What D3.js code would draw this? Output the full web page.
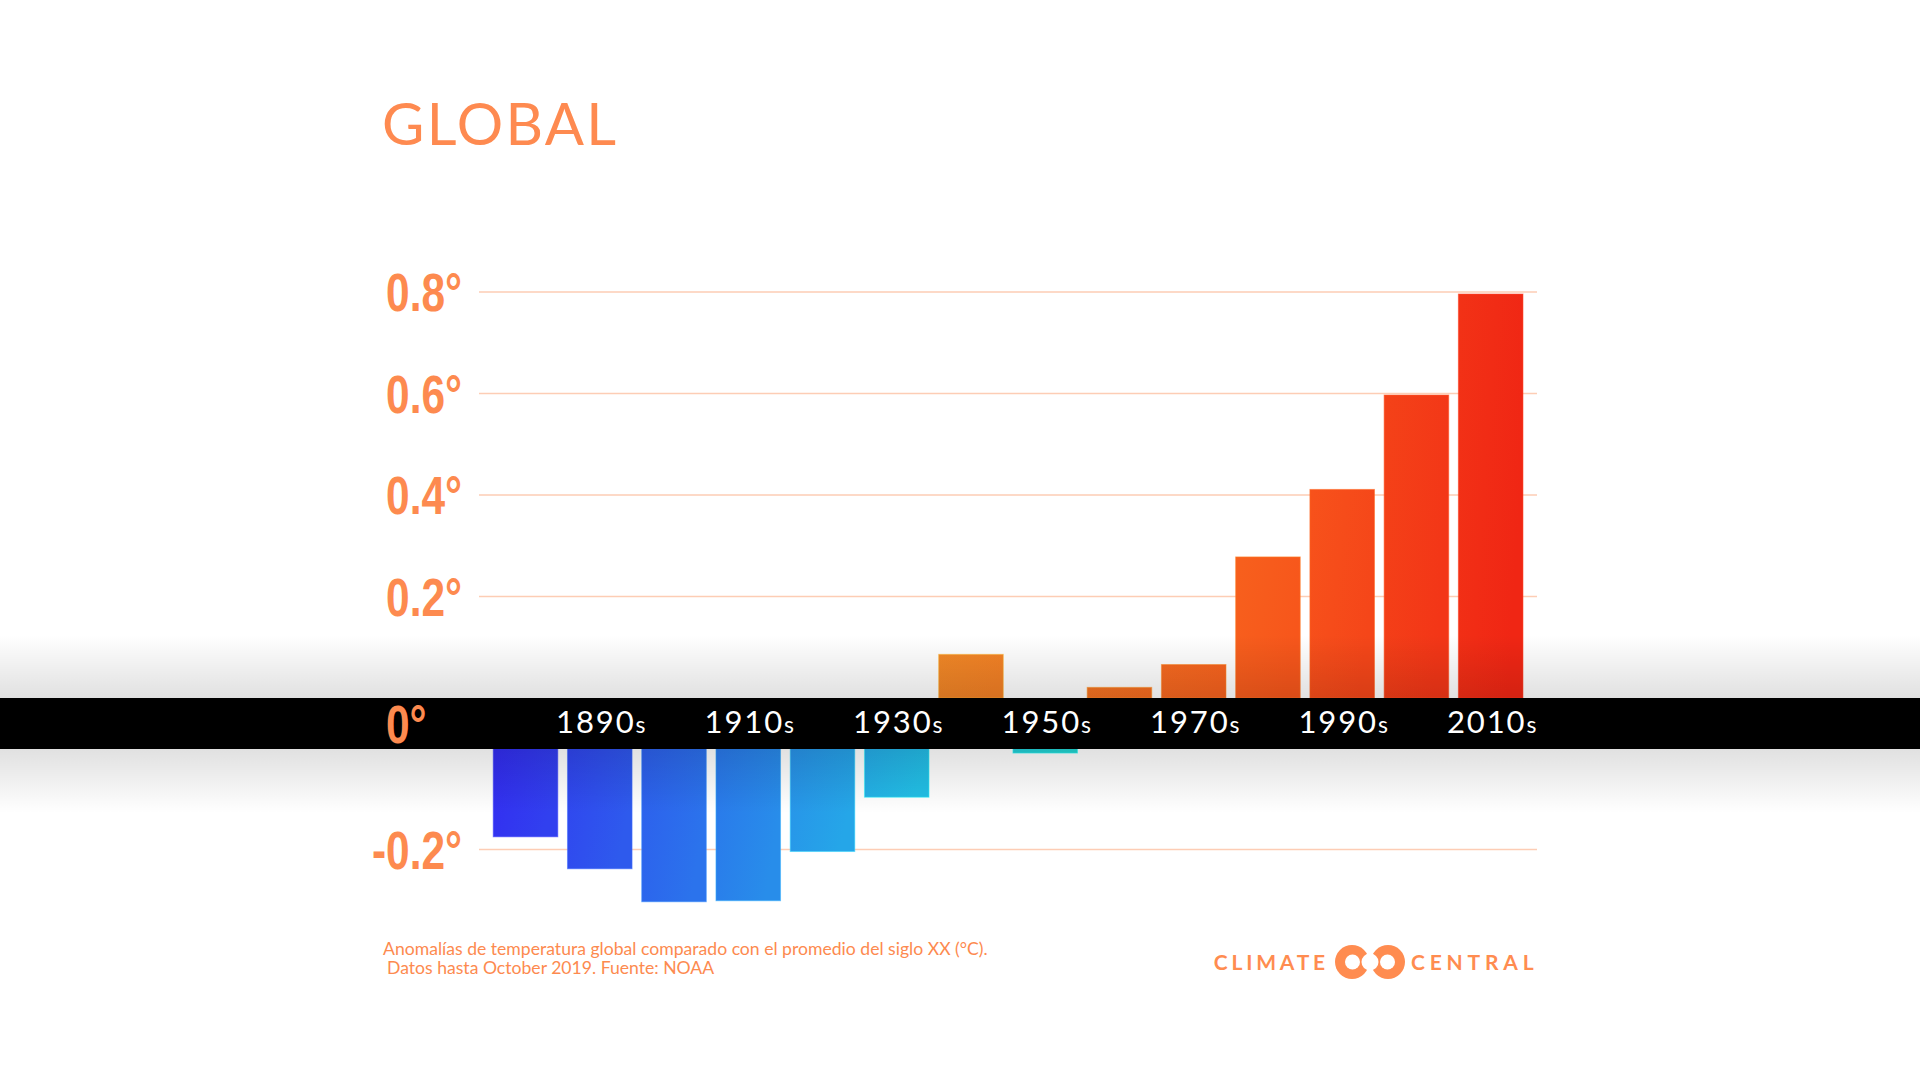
<!DOCTYPE html>
<html>
<head>
<meta charset="utf-8">
<script src="https://cdn.jsdelivr.net/npm/d3@7"></script>
<style>
  body { margin: 0; background: #fff; }
  svg { display: block; }
</style>
</head>
<body>
<svg id="chart"></svg>
<script>
// DATA
let decades = ["1880s", "1890s", "1900s", "1910s", "1920s", "1930s", "1940s",
  "1950s", "1960s", "1970s", "1980s", "1990s", "2000s", "2010s"]
let anomalies = [-0.175, -0.238, -0.303, -0.301, -0.204, -0.097, 0.086,
  -0.01, 0.021, 0.066, 0.278, 0.411, 0.597, 0.796]
let labelDecades = ["1890s", "1910s", "1930s", "1950s", "1970s", "1990s", "2010s"]
let posTicks = [0.2, 0.4, 0.6, 0.8]
let negTicks = [-0.2]

let svgWidth = 1920
let svgHeight = 1080
let orange = "#fd8a4f"

// THE CONTAINER
let svg = d3.select("#chart")
  .attr("width", svgWidth)
  .attr("height", svgHeight)

svg.append("rect")
  .attr("width", svgWidth)
  .attr("height", svgHeight)
  .attr("fill", "#fff")

let defs = svg.append("defs")

// SCALES
let bandTop = 698
let bandBottom = 749

let xScale = d3.scaleBand()
  .domain(decades)
  .range([488.4, 1527.8])
  .paddingInner(0.13)
  .paddingOuter(0.065)

// positive part sits on top of the black band, negative part hangs under it
let yPos = d3.scaleLinear()
  .domain([0, 0.8])
  .range([bandTop, 292])

let yNeg = d3.scaleLinear()
  .domain([0, -0.2])
  .range([bandBottom - 1, 849.5])

let coldColor = d3.scaleLinear()
  .domain([1880, 1935, 1955])
  .range(["#3236f0", "#22c2e6", "#22d6d0"])

let warmColor = d3.scaleLinear()
  .domain([1940, 1980, 2015])
  .range(["#f28426", "#f85c1c", "#f02414"])

function colorAt(year, value) {
  return value < 0 ? coldColor(year) : warmColor(year)
}

// GRIDLINES
let gridX1 = 479
let gridX2 = 1537

svg.append("g")
  .selectAll("line")
  .data(posTicks)
  .enter()
  .append("line")
  .attr("x1", gridX1)
  .attr("x2", gridX2)
  .attr("y1", d => yPos(d))
  .attr("y2", d => yPos(d))
  .attr("stroke", "#fdcdb5")
  .attr("stroke-width", 1.5)

svg.append("g")
  .selectAll("line")
  .data(negTicks)
  .enter()
  .append("line")
  .attr("x1", gridX1)
  .attr("x2", gridX2)
  .attr("y1", d => yNeg(d))
  .attr("y2", d => yNeg(d))
  .attr("stroke", "#fdcdb5")
  .attr("stroke-width", 1.5)

// BAR GRADIENTS
let grads = defs.selectAll("linearGradient.bar")
  .data(decades)
  .enter()
  .append("linearGradient")
  .attr("class", "bar")
  .attr("id", (d, i) => "bar" + i)
  .attr("x1", "0%").attr("y1", "0%")
  .attr("x2", "100%").attr("y2", "40%")

grads.append("stop")
  .attr("offset", "0%")
  .attr("stop-color", (d, i) => colorAt(parseInt(d) - 4, anomalies[i]))
grads.append("stop")
  .attr("offset", "100%")
  .attr("stop-color", (d, i) => colorAt(parseInt(d) + 4, anomalies[i]))

// THE BARS
svg.append("g")
  .selectAll("rect")
  .data(decades)
  .enter()
  .append("rect")
  .attr("x", d => xScale(d))
  .attr("width", xScale.bandwidth())
  .attr("y", (d, i) => anomalies[i] >= 0 ? yPos(anomalies[i]) : bandBottom - 2)
  .attr("height", (d, i) => anomalies[i] >= 0
    ? yPos(0) - yPos(anomalies[i])
    : yNeg(anomalies[i]) - bandBottom + 2)
  .attr("fill", (d, i) => `url(#bar${i})`)
  .attr("stroke", (d, i) => d3.color(colorAt(parseInt(d), anomalies[i])).brighter(0.9))
  .attr("stroke-opacity", 0.55)
  .attr("stroke-width", 1)

// SHADING ROUND THE BAND
let shadeUp = defs.append("linearGradient")
  .attr("id", "shadeUp")
  .attr("x1", 0).attr("y1", 0).attr("x2", 0).attr("y2", 1)
shadeUp.append("stop").attr("offset", "0%").attr("stop-color", "#000").attr("stop-opacity", 0)
shadeUp.append("stop").attr("offset", "100%").attr("stop-color", "#000").attr("stop-opacity", 0.12)

let shadeDown = defs.append("linearGradient")
  .attr("id", "shadeDown")
  .attr("x1", 0).attr("y1", 0).attr("x2", 0).attr("y2", 1)
shadeDown.append("stop").attr("offset", "0%").attr("stop-color", "#000").attr("stop-opacity", 0.12)
shadeDown.append("stop").attr("offset", "100%").attr("stop-color", "#000").attr("stop-opacity", 0)

svg.append("rect")
  .attr("x", 0)
  .attr("y", 635)
  .attr("width", svgWidth)
  .attr("height", bandTop - 635)
  .attr("fill", "url(#shadeUp)")

svg.append("rect")
  .attr("x", 0)
  .attr("y", bandBottom)
  .attr("width", svgWidth)
  .attr("height", 64)
  .attr("fill", "url(#shadeDown)")

// THE BLACK BAND
svg.append("rect")
  .attr("x", 0)
  .attr("y", bandTop)
  .attr("width", svgWidth)
  .attr("height", bandBottom - bandTop)
  .attr("fill", "#000")

// Y LABELS (condensed by squeezing the glyphs sideways)
let yFont = "'Liberation Sans', Arial, sans-serif"
let squeeze = 0.8

function yLabel(sel, scale) {
  sel.append("text")
    .text(d => d + "°")
    .attr("transform", d => `translate(462, ${scale(d)}) scale(${squeeze}, 1)`)
    .attr("dy", "0.36em")
    .attr("text-anchor", "end")
    .attr("font-family", yFont)
    .attr("font-weight", "bold")
    .attr("font-size", 53)
    .attr("fill", orange)
}

svg.append("g")
  .selectAll("g")
  .data(posTicks)
  .enter()
  .call(yLabel, yPos)

svg.append("g")
  .selectAll("g")
  .data(negTicks)
  .enter()
  .call(yLabel, yNeg)

svg.append("text")
  .text("0°")
  .attr("transform", `translate(386, ${(bandTop + bandBottom) / 2}) scale(${squeeze}, 1)`)
  .attr("dy", "0.36em")
  .attr("font-family", yFont)
  .attr("font-weight", "bold")
  .attr("font-size", 53)
  .attr("fill", orange)

// X LABELS
let xText = svg.append("g")
  .selectAll("text")
  .data(labelDecades)
  .enter()
  .append("text")
  .attr("x", d => xScale(d) + xScale.bandwidth() / 2 + 2)
  .attr("y", 733)
  .attr("text-anchor", "middle")
  .attr("font-family", "Lato, sans-serif")
  .attr("fill", "#fff")
  .attr("letter-spacing", 1.9)

xText.append("tspan")
  .attr("font-size", 31)
  .text(d => d.slice(0, 4))
xText.append("tspan")
  .attr("font-size", 23)
  .text("s")

// TITLE
svg.append("text")
  .text("GLOBAL")
  .attr("x", 382)
  .attr("y", 145)
  .attr("font-family", "Lato, sans-serif")
  .attr("font-size", 58)
  .attr("letter-spacing", 2.3)
  .attr("fill", "#fe8a50")

// FOOTNOTE
let note = svg.append("text")
  .attr("font-family", "Lato, sans-serif")
  .attr("font-size", 17.6)
  .attr("fill", orange)

note.append("tspan")
  .attr("x", 383)
  .attr("y", 954.5)
  .text("Anomalías de temperatura global comparado con el promedio del siglo XX (°C).")
note.append("tspan")
  .attr("x", 387)
  .attr("y", 974)
  .text("Datos hasta October 2019. Fuente: NOAA")

// LOGO
let logo = svg.append("g")
let logoFont = "Lato, sans-serif"

logo.append("text")
  .text("CLIMATE")
  .attr("x", 1329)
  .attr("y", 969.5)
  .attr("text-anchor", "end")
  .attr("font-family", logoFont)
  .attr("font-weight", 700)
  .attr("font-size", 21)
  .attr("letter-spacing", 3.8)
  .attr("fill", "#ff8c50")

logo.append("text")
  .text("CENTRAL")
  .attr("x", 1411)
  .attr("y", 969.5)
  .attr("font-family", logoFont)
  .attr("font-weight", 700)
  .attr("font-size", 21)
  .attr("letter-spacing", 4.8)
  .attr("fill", "#ff8c50")

logo.selectAll("circle.outer")
  .data([1352, 1388])
  .enter()
  .append("circle")
  .attr("cx", d => d)
  .attr("cy", 962)
  .attr("r", 17)
  .attr("fill", "#ff8c50")

logo.selectAll("circle.inner")
  .data([[1352.5, 7.5], [1370, 8.5], [1387.5, 7.5]])
  .enter()
  .append("circle")
  .attr("cx", d => d[0])
  .attr("cy", 962)
  .attr("r", d => d[1])
  .attr("fill", "#fff")
</script>
</body>
</html>
